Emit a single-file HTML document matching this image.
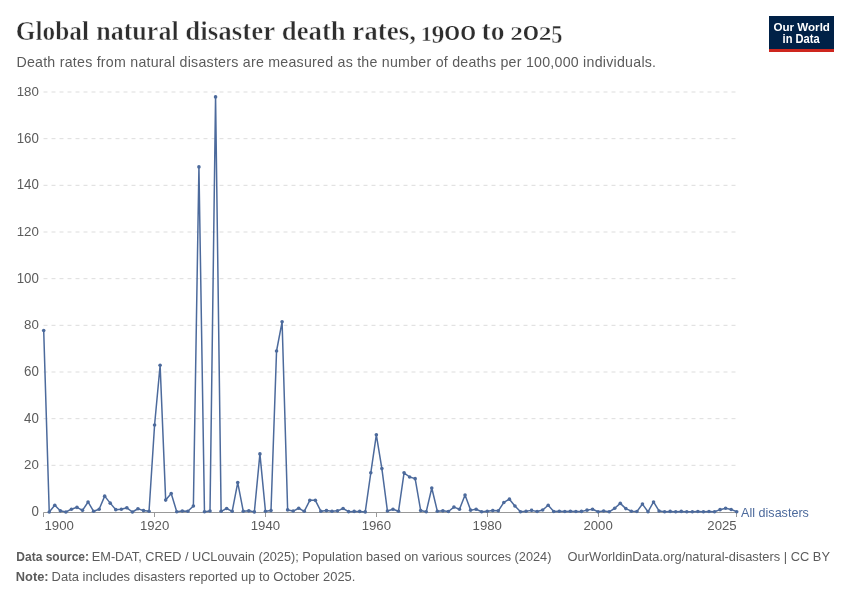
<!DOCTYPE html>
<html><head><meta charset="utf-8">
<style>
html,body{margin:0;padding:0;background:#fff;width:850px;height:600px;overflow:hidden}
svg{display:block;will-change:transform}
.sans{font-family:"Liberation Sans",sans-serif}
.serif{font-family:"Liberation Serif",serif}
</style></head><body>
<svg width="850" height="600" viewBox="0 0 850 600">
<rect width="850" height="600" fill="#fff"/>
<g class="serif" font-size="26.45" font-weight="bold" fill="#2e2e2e" stroke="#fff" stroke-width="0.5"><text transform="translate(15.86,40.00) scale(0.9572,1.0000)">Global</text><text transform="translate(96.21,40.00) scale(0.9843,1.0000)">natural</text><text transform="translate(185.28,40.00) scale(1.0197,1.0000)">disaster</text><text transform="translate(281.79,40.00) scale(1.0113,1.0000)">death</text><text transform="translate(352.18,40.00) scale(1.0231,1.0000)">rates,</text><text transform="translate(481.58,40.00) scale(1.0437,1.0000)">to</text><text transform="translate(421.11,40.60) scale(0.8061,0.7886)">1</text><text transform="translate(431.42,43.21) scale(0.9741,0.9379)">9</text><text transform="translate(444.53,40.37) scale(0.7444,0.7753)" stroke="none">O</text><text transform="translate(460.43,40.37) scale(0.7444,0.7753)" stroke="none">O</text><text transform="translate(510.35,39.90) scale(0.9545,0.7486)">2</text><text transform="translate(523.00,40.37) scale(0.7667,0.7753)" stroke="none">O</text><text transform="translate(538.84,39.90) scale(0.9636,0.7486)">2</text><text transform="translate(551.37,43.20) scale(0.8482,0.9886)">5</text></g>
<text class="sans" x="16.4" y="67.1" font-size="14.2" letter-spacing="0.25" fill="#5b5b5b">Death rates from natural disasters are measured as the number of deaths per 100,000 individuals.</text>
<g>
<rect x="769" y="16" width="65" height="36" fill="#002147"/>
<rect x="769" y="49" width="65" height="3" fill="#ce261e"/>
<text transform="translate(773.42,30.70) scale(0.9685,0.9663)" font-family="Liberation Sans" font-weight="bold" font-size="12" fill="#fff">Our World</text><text transform="translate(782.56,42.80) scale(0.9288,1.0000)" font-family="Liberation Sans" font-weight="bold" font-size="12" fill="#fff">in Data</text>
</g>
<g stroke="#dddddd" stroke-width="1" stroke-dasharray="4,4" fill="none"><line x1="43.5" x2="737" y1="465.33" y2="465.33"/><line x1="43.5" x2="737" y1="418.67" y2="418.67"/><line x1="43.5" x2="737" y1="372.00" y2="372.00"/><line x1="43.5" x2="737" y1="325.33" y2="325.33"/><line x1="43.5" x2="737" y1="278.67" y2="278.67"/><line x1="43.5" x2="737" y1="232.00" y2="232.00"/><line x1="43.5" x2="737" y1="185.33" y2="185.33"/><line x1="43.5" x2="737" y1="138.67" y2="138.67"/><line x1="43.5" x2="737" y1="92.00" y2="92.00"/></g>
<g class="sans" font-size="13.3" fill="#5b5b5b"><text transform="translate(31.50,516.10) scale(1.0000,1.0319)" font-family="Liberation Sans" font-weight="normal" font-size="13.3" fill="#5b5b5b">0</text><text transform="translate(24.10,469.43) scale(1.0000,1.0211)" font-family="Liberation Sans" font-weight="normal" font-size="13.3" fill="#5b5b5b">20</text><text transform="translate(24.10,422.76) scale(1.0000,1.0319)" font-family="Liberation Sans" font-weight="normal" font-size="13.3" fill="#5b5b5b">40</text><text transform="translate(24.10,376.10) scale(1.0000,1.0319)" font-family="Liberation Sans" font-weight="normal" font-size="13.3" fill="#5b5b5b">60</text><text transform="translate(24.10,329.43) scale(1.0000,1.0211)" font-family="Liberation Sans" font-weight="normal" font-size="13.3" fill="#5b5b5b">80</text><text transform="translate(16.70,282.76) scale(1.0000,1.0319)" font-family="Liberation Sans" font-weight="normal" font-size="13.3" fill="#5b5b5b">100</text><text transform="translate(16.70,236.10) scale(1.0000,1.0211)" font-family="Liberation Sans" font-weight="normal" font-size="13.3" fill="#5b5b5b">120</text><text transform="translate(16.70,189.43) scale(1.0000,1.0319)" font-family="Liberation Sans" font-weight="normal" font-size="13.3" fill="#5b5b5b">140</text><text transform="translate(16.70,142.76) scale(1.0000,1.0319)" font-family="Liberation Sans" font-weight="normal" font-size="13.3" fill="#5b5b5b">160</text><text transform="translate(16.70,96.10) scale(1.0000,1.0211)" font-family="Liberation Sans" font-weight="normal" font-size="13.3" fill="#5b5b5b">180</text></g>
<line x1="43.5" x2="737" y1="512.5" y2="512.5" stroke="#999" stroke-width="1"/>
<g stroke="#999" stroke-width="1"><line x1="43.5" x2="43.5" y1="512.5" y2="517"/><line x1="154.5" x2="154.5" y1="512.5" y2="517"/><line x1="265.5" x2="265.5" y1="512.5" y2="517"/><line x1="376.5" x2="376.5" y1="512.5" y2="517"/><line x1="487.5" x2="487.5" y1="512.5" y2="517"/><line x1="598.5" x2="598.5" y1="512.5" y2="517"/><line x1="736.5" x2="736.5" y1="512.5" y2="517"/></g>
<g class="sans" font-size="13.2" fill="#5b5b5b"><text x="154.58" y="530" text-anchor="middle">1920</text><text x="265.46" y="530" text-anchor="middle">1940</text><text x="376.34" y="530" text-anchor="middle">1960</text><text x="487.22" y="530" text-anchor="middle">1980</text><text x="598.10" y="530" text-anchor="middle">2000</text><text x="44.5" y="530" text-anchor="start">1900</text><text x="736.7" y="530" text-anchor="end">2025</text></g>
<path d="M43.70,330.47 L49.24,512.00 L54.79,505.23 L60.33,510.83 L65.88,512.00 L71.42,509.20 L76.96,507.33 L82.51,510.37 L88.05,501.97 L93.60,511.30 L99.14,509.20 L104.68,496.13 L110.23,503.13 L115.77,509.67 L121.32,509.20 L126.86,507.80 L132.40,512.00 L137.95,508.73 L143.49,510.60 L149.04,511.30 L154.58,424.97 L160.12,365.23 L165.67,500.10 L171.21,493.57 L176.76,511.77 L182.30,511.07 L187.84,511.30 L193.39,505.93 L198.93,166.90 L204.48,511.77 L210.02,511.07 L215.56,96.90 L221.11,511.30 L226.65,508.50 L232.20,511.30 L237.74,482.60 L243.28,511.30 L248.83,510.83 L254.37,511.88 L259.92,453.90 L265.46,511.30 L271.00,510.60 L276.55,351.00 L282.09,321.83 L287.64,509.90 L293.18,511.07 L298.72,508.27 L304.27,511.30 L309.81,500.33 L315.36,500.33 L320.90,511.30 L326.44,510.60 L331.99,511.30 L337.53,510.83 L343.08,508.50 L348.62,511.65 L354.16,511.42 L359.71,511.42 L365.25,511.88 L370.80,472.80 L376.34,434.77 L381.88,468.60 L387.43,511.07 L392.97,509.20 L398.52,511.30 L404.06,472.80 L409.60,477.00 L415.15,478.63 L420.69,510.60 L426.24,511.77 L431.78,487.97 L437.32,511.18 L442.87,510.83 L448.41,511.53 L453.96,507.10 L459.50,509.20 L465.04,494.97 L470.59,510.13 L476.13,509.20 L481.68,511.77 L487.22,511.18 L492.76,510.60 L498.31,510.83 L503.85,502.43 L509.40,499.17 L514.94,505.93 L520.48,511.77 L526.03,511.18 L531.57,510.37 L537.12,511.53 L542.66,510.02 L548.20,505.23 L553.75,511.53 L559.29,511.18 L564.84,511.53 L570.38,511.30 L575.92,511.53 L581.47,511.42 L587.01,510.13 L592.56,509.20 L598.10,511.77 L603.64,510.95 L609.19,511.77 L614.73,508.27 L620.28,503.37 L625.82,508.62 L631.36,511.18 L636.91,511.53 L642.45,504.07 L648.00,511.77 L653.54,501.97 L659.08,510.95 L664.63,511.77 L670.17,511.42 L675.72,511.77 L681.26,511.42 L686.80,511.77 L692.35,511.77 L697.89,511.53 L703.44,511.77 L708.98,511.53 L714.52,511.77 L720.07,509.67 L725.61,508.27 L731.16,509.43 L736.70,511.77" fill="none" stroke="#4c6a9c" stroke-width="1.5" stroke-linejoin="round"/>
<g fill="#4c6a9c"><circle cx="43.70" cy="330.47" r="1.8"/><circle cx="49.24" cy="512.00" r="1.8"/><circle cx="54.79" cy="505.23" r="1.8"/><circle cx="60.33" cy="510.83" r="1.8"/><circle cx="65.88" cy="512.00" r="1.8"/><circle cx="71.42" cy="509.20" r="1.8"/><circle cx="76.96" cy="507.33" r="1.8"/><circle cx="82.51" cy="510.37" r="1.8"/><circle cx="88.05" cy="501.97" r="1.8"/><circle cx="93.60" cy="511.30" r="1.8"/><circle cx="99.14" cy="509.20" r="1.8"/><circle cx="104.68" cy="496.13" r="1.8"/><circle cx="110.23" cy="503.13" r="1.8"/><circle cx="115.77" cy="509.67" r="1.8"/><circle cx="121.32" cy="509.20" r="1.8"/><circle cx="126.86" cy="507.80" r="1.8"/><circle cx="132.40" cy="512.00" r="1.8"/><circle cx="137.95" cy="508.73" r="1.8"/><circle cx="143.49" cy="510.60" r="1.8"/><circle cx="149.04" cy="511.30" r="1.8"/><circle cx="154.58" cy="424.97" r="1.8"/><circle cx="160.12" cy="365.23" r="1.8"/><circle cx="165.67" cy="500.10" r="1.8"/><circle cx="171.21" cy="493.57" r="1.8"/><circle cx="176.76" cy="511.77" r="1.8"/><circle cx="182.30" cy="511.07" r="1.8"/><circle cx="187.84" cy="511.30" r="1.8"/><circle cx="193.39" cy="505.93" r="1.8"/><circle cx="198.93" cy="166.90" r="1.8"/><circle cx="204.48" cy="511.77" r="1.8"/><circle cx="210.02" cy="511.07" r="1.8"/><circle cx="215.56" cy="96.90" r="1.8"/><circle cx="221.11" cy="511.30" r="1.8"/><circle cx="226.65" cy="508.50" r="1.8"/><circle cx="232.20" cy="511.30" r="1.8"/><circle cx="237.74" cy="482.60" r="1.8"/><circle cx="243.28" cy="511.30" r="1.8"/><circle cx="248.83" cy="510.83" r="1.8"/><circle cx="254.37" cy="511.88" r="1.8"/><circle cx="259.92" cy="453.90" r="1.8"/><circle cx="265.46" cy="511.30" r="1.8"/><circle cx="271.00" cy="510.60" r="1.8"/><circle cx="276.55" cy="351.00" r="1.8"/><circle cx="282.09" cy="321.83" r="1.8"/><circle cx="287.64" cy="509.90" r="1.8"/><circle cx="293.18" cy="511.07" r="1.8"/><circle cx="298.72" cy="508.27" r="1.8"/><circle cx="304.27" cy="511.30" r="1.8"/><circle cx="309.81" cy="500.33" r="1.8"/><circle cx="315.36" cy="500.33" r="1.8"/><circle cx="320.90" cy="511.30" r="1.8"/><circle cx="326.44" cy="510.60" r="1.8"/><circle cx="331.99" cy="511.30" r="1.8"/><circle cx="337.53" cy="510.83" r="1.8"/><circle cx="343.08" cy="508.50" r="1.8"/><circle cx="348.62" cy="511.65" r="1.8"/><circle cx="354.16" cy="511.42" r="1.8"/><circle cx="359.71" cy="511.42" r="1.8"/><circle cx="365.25" cy="511.88" r="1.8"/><circle cx="370.80" cy="472.80" r="1.8"/><circle cx="376.34" cy="434.77" r="1.8"/><circle cx="381.88" cy="468.60" r="1.8"/><circle cx="387.43" cy="511.07" r="1.8"/><circle cx="392.97" cy="509.20" r="1.8"/><circle cx="398.52" cy="511.30" r="1.8"/><circle cx="404.06" cy="472.80" r="1.8"/><circle cx="409.60" cy="477.00" r="1.8"/><circle cx="415.15" cy="478.63" r="1.8"/><circle cx="420.69" cy="510.60" r="1.8"/><circle cx="426.24" cy="511.77" r="1.8"/><circle cx="431.78" cy="487.97" r="1.8"/><circle cx="437.32" cy="511.18" r="1.8"/><circle cx="442.87" cy="510.83" r="1.8"/><circle cx="448.41" cy="511.53" r="1.8"/><circle cx="453.96" cy="507.10" r="1.8"/><circle cx="459.50" cy="509.20" r="1.8"/><circle cx="465.04" cy="494.97" r="1.8"/><circle cx="470.59" cy="510.13" r="1.8"/><circle cx="476.13" cy="509.20" r="1.8"/><circle cx="481.68" cy="511.77" r="1.8"/><circle cx="487.22" cy="511.18" r="1.8"/><circle cx="492.76" cy="510.60" r="1.8"/><circle cx="498.31" cy="510.83" r="1.8"/><circle cx="503.85" cy="502.43" r="1.8"/><circle cx="509.40" cy="499.17" r="1.8"/><circle cx="514.94" cy="505.93" r="1.8"/><circle cx="520.48" cy="511.77" r="1.8"/><circle cx="526.03" cy="511.18" r="1.8"/><circle cx="531.57" cy="510.37" r="1.8"/><circle cx="537.12" cy="511.53" r="1.8"/><circle cx="542.66" cy="510.02" r="1.8"/><circle cx="548.20" cy="505.23" r="1.8"/><circle cx="553.75" cy="511.53" r="1.8"/><circle cx="559.29" cy="511.18" r="1.8"/><circle cx="564.84" cy="511.53" r="1.8"/><circle cx="570.38" cy="511.30" r="1.8"/><circle cx="575.92" cy="511.53" r="1.8"/><circle cx="581.47" cy="511.42" r="1.8"/><circle cx="587.01" cy="510.13" r="1.8"/><circle cx="592.56" cy="509.20" r="1.8"/><circle cx="598.10" cy="511.77" r="1.8"/><circle cx="603.64" cy="510.95" r="1.8"/><circle cx="609.19" cy="511.77" r="1.8"/><circle cx="614.73" cy="508.27" r="1.8"/><circle cx="620.28" cy="503.37" r="1.8"/><circle cx="625.82" cy="508.62" r="1.8"/><circle cx="631.36" cy="511.18" r="1.8"/><circle cx="636.91" cy="511.53" r="1.8"/><circle cx="642.45" cy="504.07" r="1.8"/><circle cx="648.00" cy="511.77" r="1.8"/><circle cx="653.54" cy="501.97" r="1.8"/><circle cx="659.08" cy="510.95" r="1.8"/><circle cx="664.63" cy="511.77" r="1.8"/><circle cx="670.17" cy="511.42" r="1.8"/><circle cx="675.72" cy="511.77" r="1.8"/><circle cx="681.26" cy="511.42" r="1.8"/><circle cx="686.80" cy="511.77" r="1.8"/><circle cx="692.35" cy="511.77" r="1.8"/><circle cx="697.89" cy="511.53" r="1.8"/><circle cx="703.44" cy="511.77" r="1.8"/><circle cx="708.98" cy="511.53" r="1.8"/><circle cx="714.52" cy="511.77" r="1.8"/><circle cx="720.07" cy="509.67" r="1.8"/><circle cx="725.61" cy="508.27" r="1.8"/><circle cx="731.16" cy="509.43" r="1.8"/><circle cx="736.70" cy="511.77" r="1.8"/></g>
<text transform="translate(741.10,516.79) scale(0.9985,1.0538)" font-family="Liberation Sans" font-weight="normal" font-size="12.6" fill="#4c6a9c">All disasters</text>
<text transform="translate(16.34,560.70) scale(0.9529,1.0000)" font-family="Liberation Sans" font-weight="bold" font-size="12.6" fill="#5b5b5b">Data source:</text><text transform="translate(91.79,560.70) scale(1.0115,1.0000)" font-family="Liberation Sans" font-weight="normal" font-size="12.6" fill="#5b5b5b">EM-DAT, CRED / UCLouvain (2025); Population based on various sources (2024)</text><text transform="translate(567.60,560.70) scale(1.0011,1.0000)" font-family="Liberation Sans" font-weight="normal" font-size="12.85" fill="#5b5b5b">OurWorldinData.org/natural-disasters | CC BY</text><text transform="translate(15.80,580.80) scale(0.9968,1.0000)" font-family="Liberation Sans" font-weight="bold" font-size="12.9" fill="#5b5b5b">Note:</text><text transform="translate(51.59,580.80) scale(1.0047,1.0000)" font-family="Liberation Sans" font-weight="normal" font-size="12.9" fill="#5b5b5b">Data includes disasters reported up to October 2025.</text>


</svg>
</body></html>
